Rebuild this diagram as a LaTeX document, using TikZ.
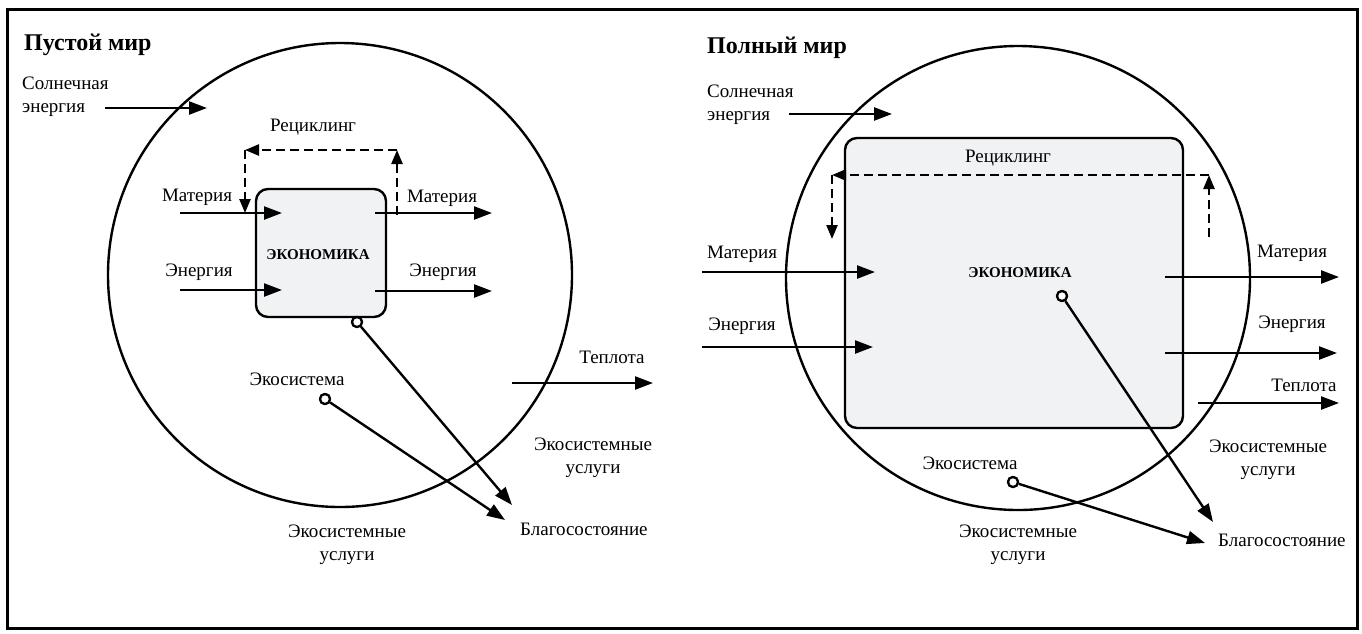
\documentclass[tikz,border=0pt]{standalone}
\usepackage{fontspec}
\setmainfont{Liberation Serif}
\usetikzlibrary{arrows.meta}
\definecolor{boxgray}{RGB}{241,242,244}

\begin{document}
\begin{tikzpicture}[x=1pt,y=-1pt,
    lbl/.style={font=\fontsize{19}{23}\selectfont,inner sep=0pt},
    flow/.style={line width=2.4pt,-{Triangle[length=18pt,width=13pt]}},
    recyc/.style={line width=2.4pt,dash pattern=on 9pt off 5pt,-{Triangle[length=14pt,width=11pt]}},
    dot/.style={circle,draw,fill=white,line width=2.2pt,inner sep=0pt,minimum size=10pt},
    econbox/.style={draw,rounded corners=12pt,fill=boxgray,line width=2.4pt,inner sep=0pt}]

  \useasboundingbox (0,0) rectangle (1362,633);
  \draw[line width=3pt] (7,9) rectangle (1357,628);

  % worlds
  \draw[line width=2.4pt] (340,275) circle (232);
  \draw[line width=2.4pt] (1018,278) circle (232);

  \node[econbox,minimum width=130pt,minimum height=128pt] (boxL) at (321,253) {};
  \node[econbox,minimum width=338pt,minimum height=290pt] (boxR) at (1014,283) {};

  % labels
  \begin{scope}[every node/.style={lbl}]
    \node[anchor=west,font=\fontsize{24}{28}\selectfont\bfseries] (titleL) at (24,45) {Пустой мир};
    \node[anchor=west,align=left] (sunL) at (22,97) {Солнечная\\энергия};
    \node (recL) at (313,127) {Рециклинг};
    \node (matinL) at (197,197) {Материя};
    \node (eninL) at (199,272) {Энергия};
    \node (matoutL) at (442,198) {Материя};
    \node (enoutL) at (443,272) {Энергия};
    \node[font=\fontsize{15}{18}\selectfont\bfseries] (ecoL) at (318,255) {ЭКОНОМИКА};
    \node (heatL) at (612,357) {Теплота};
    \node (sysL) at (297,379) {Экосистема};
    \node[align=center] (esrL) at (593,458) {Экосистемные\\услуги};
    \node[anchor=west] (wellL) at (520,529) {Благосостояние};
    \node[align=center] (esbL) at (347,545) {Экосистемные\\услуги};

    \node[anchor=west,font=\fontsize{24}{28}\selectfont\bfseries] (titleR) at (707,48) {Полный мир};
    \node[anchor=west,align=left] (sunR) at (707,105) {Солнечная\\энергия};
    \node (recR) at (1008,158) {Рециклинг};
    \node (matinR) at (742,254) {Материя};
    \node (eninR) at (742,326) {Энергия};
    \node (matoutR) at (1292,253) {Материя};
    \node (enoutR) at (1292,324) {Энергия};
    \node[font=\fontsize{15}{18}\selectfont\bfseries] (ecoR) at (1020,273) {ЭКОНОМИКА};
    \node (heatR) at (1304,385) {Теплота};
    \node (sysR) at (970,463) {Экосистема};
    \node[align=center] (esrR) at (1268,460) {Экосистемные\\услуги};
    \node[anchor=west] (wellR) at (1218,540) {Благосостояние};
    \node[align=center] (esbR) at (1018,545) {Экосистемные\\услуги};
  \end{scope}

  % flow ends
  \coordinate (sunaL) at (105,108);  \coordinate (sunbL) at (207,108);
  \coordinate (mataL) at (180,213);  \coordinate (matbL) at (282,213);
  \coordinate (enaL)  at (180,290);  \coordinate (enbL)  at (282,290);
  \coordinate (matcL) at (375,213);  \coordinate (matdL) at (492,213);
  \coordinate (encL)  at (375,291);  \coordinate (endL)  at (492,291);
  \coordinate (heataL) at (512,383); \coordinate (heatbL) at (653,383);
  \coordinate (rec1L) at (397,215);  \coordinate (rec2L) at (397,150);
  \coordinate (rec3L) at (245,150);  \coordinate (rec4L) at (245,213);
  \coordinate (tipeL) at (512,505);  \coordinate (tipsL) at (505,520);

  \coordinate (sunaR) at (789,114);  \coordinate (sunbR) at (892,114);
  \coordinate (mataR) at (702,272);  \coordinate (matbR) at (875,272);
  \coordinate (enaR)  at (702,347);  \coordinate (enbR)  at (873,347);
  \coordinate (matcR) at (1165,277); \coordinate (matdR) at (1339,277);
  \coordinate (encR)  at (1165,353); \coordinate (endR)  at (1337,353);
  \coordinate (heataR) at (1198,403); \coordinate (heatbR) at (1339,403);
  \coordinate (rec1R) at (1209,237); \coordinate (rec2R) at (1209,175);
  \coordinate (rec3R) at (832,175);  \coordinate (rec4R) at (832,239);
  \coordinate (tipeR) at (1213,522); \coordinate (tipsR) at (1205,543);

  \node[dot] (edotL) at (357,322) {};
  \node[dot] (sdotL) at (325,399) {};
  \node[dot] (edotR) at (1062,296) {};
  \node[dot] (sdotR) at (1013,482) {};

  \begin{scope}[every edge/.style={draw,flow}]
    \path (sunaL) edge (sunbL)  (mataL) edge (matbL)  (enaL) edge (enbL)
          (matcL) edge (matdL)  (encL) edge (endL)    (heataL) edge (heatbL)
          (edotL) edge (tipeL)  (sdotL) edge (tipsL);
    \path (sunaR) edge (sunbR)  (mataR) edge (matbR)  (enaR) edge (enbR)
          (matcR) edge (matdR)  (encR) edge (endR)    (heataR) edge (heatbR)
          (edotR) edge (tipeR)  (sdotR) edge (tipsR);
  \end{scope}

  \begin{scope}[every edge/.style={draw,recyc}]
    \path (rec1L) edge (rec2L)  (rec2L) edge (rec3L)  (rec3L) edge (rec4L);
    \path (rec1R) edge (rec2R)  (rec2R) edge (rec3R)  (rec3R) edge (rec4R);
  \end{scope}

  % dots on top
  \node[dot] at (edotL) {};
  \node[dot] at (sdotL) {};
  \node[dot] at (edotR) {};
  \node[dot] at (sdotR) {};

\end{tikzpicture}
\end{document}
